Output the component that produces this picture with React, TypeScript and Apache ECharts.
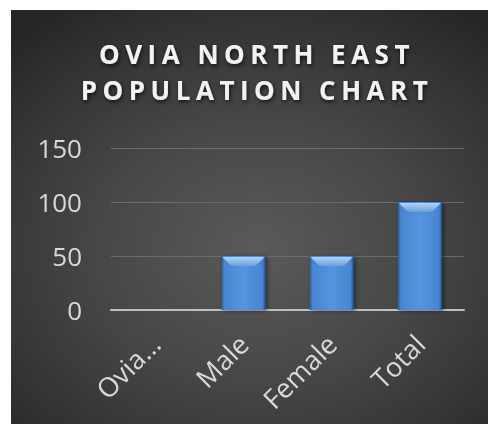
import React, { useEffect, useRef } from "react";
import * as echarts from "echarts";

const categories = ["Ovia…", "Male", "Female", "Total"];
const populationValues = [0, 50, 50, 100];
const yTicks = [0, 50, 100, 150];
const titleLines = ["OVIA NORTH EAST", "POPULATION CHART"];

export default function App() {
  const ref = useRef<HTMLDivElement>(null);

  useEffect(() => {
    if (!ref.current) return;
    const chart = echarts.init(ref.current, undefined, { renderer: "svg" });
    const bevelData = populationValues.map((v, i) => [i, v]);
    chart.setOption({
      animation: false,
      backgroundColor: "transparent",
      title: {
        text: titleLines.join("\n"),
        left: 241,
        top: 21,
        textAlign: "center",
        textStyle: {
          fontFamily: "Open Sans",
          fontSize: 26,
          fontWeight: "bold",
          lineHeight: 36,
          color: "#f2f2f2",
          textShadowColor: "rgba(0,0,0,0.7)",
          textShadowBlur: 4,
          textShadowOffsetX: 1,
          textShadowOffsetY: 2,
        },
      },
      grid: { left: 100, top: 138, right: 24, bottom: 114, containLabel: false },
      xAxis: {
        type: "category",
        data: categories,
        axisLine: { lineStyle: { color: "#bfbfbf", width: 2 } },
        axisTick: { show: false },
        axisLabel: {
          rotate: 45,
          margin: 29,
          fontFamily: "Open Sans",
          fontSize: 27,
          color: "#d9d9d9",
          interval: 0,
        },
      },
      yAxis: {
        type: "value",
        min: yTicks[0],
        max: yTicks[yTicks.length - 1],
        interval: 50,
        axisLine: { show: false },
        axisTick: { show: false },
        splitLine: { lineStyle: { color: "#6b6b6b", width: 1 } },
        axisLabel: {
          margin: 29,
          fontFamily: "Open Sans",
          fontSize: 26,
          color: "#d9d9d9",
        },
      },
      series: [
        {
          type: "bar",
          data: populationValues,
          barWidth: "50%",
          itemStyle: {
            color: new echarts.graphic.LinearGradient(0, 0, 1, 0, [
              { offset: 0, color: "#2c5a92" },
              { offset: 0.07, color: "#4886d0" },
              { offset: 0.5, color: "#5494de" },
              { offset: 0.93, color: "#4886d0" },
              { offset: 1, color: "#274f82" },
            ]),
            shadowColor: "rgba(0,0,0,0.45)",
            shadowBlur: 4,
            shadowOffsetX: 2,
            shadowOffsetY: 1,
          },
        },
        {
          type: "custom",
          data: bevelData,
          silent: true,
          z: 3,
          renderItem: (params: any, api: any) => {
            const idx = api.value(0);
            const v = api.value(1);
            if (!v) return null;
            const top = api.coord([idx, v]);
            const band = api.size([1, 0])[0];
            const bw = band * 0.5;
            const bh = 9;
            const x0 = top[0] - bw / 2 + 1;
            const x1 = top[0] + bw / 2 - 1;
            const y0 = top[1] + 1;
            return {
              type: "polygon",
              shape: {
                points: [
                  [x0, y0],
                  [x1, y0],
                  [x1 - bh, y0 + bh],
                  [x0 + bh, y0 + bh],
                ],
              },
              style: {
                fill: new echarts.graphic.LinearGradient(0, 0, 0, 1, [
                  { offset: 0, color: "#b3d3f7" },
                  { offset: 1, color: "#6a9fdd" },
                ]),
              },
            };
          },
        },
      ],
    });
    const applySpacing = () => {
      if (!ref.current) return;
      ref.current.querySelectorAll("text").forEach((t) => {
        const txt = (t.textContent || "").trim();
        if (titleLines.includes(txt)) {
          t.setAttribute("letter-spacing", "5.5px");
          (t as any).style.letterSpacing = "5.5px";
        }
      });
    };
    applySpacing();
    chart.on("finished", applySpacing);
    const timer = setTimeout(applySpacing, 50);
    return () => {
      clearTimeout(timer);
      chart.dispose();
    };
  }, []);

  return (
    <div
      style={{
        position: "fixed",
        left: 11,
        top: 10,
        width: 477,
        height: 414,
        background:
          "radial-gradient(ellipse 75% 70% at 52% 58%, #5a5a5a 0%, #474747 45%, #333333 80%, #262626 100%)",
      }}
    >
      <div ref={ref} style={{ width: 477, height: 414 }} />
    </div>
  );
}
